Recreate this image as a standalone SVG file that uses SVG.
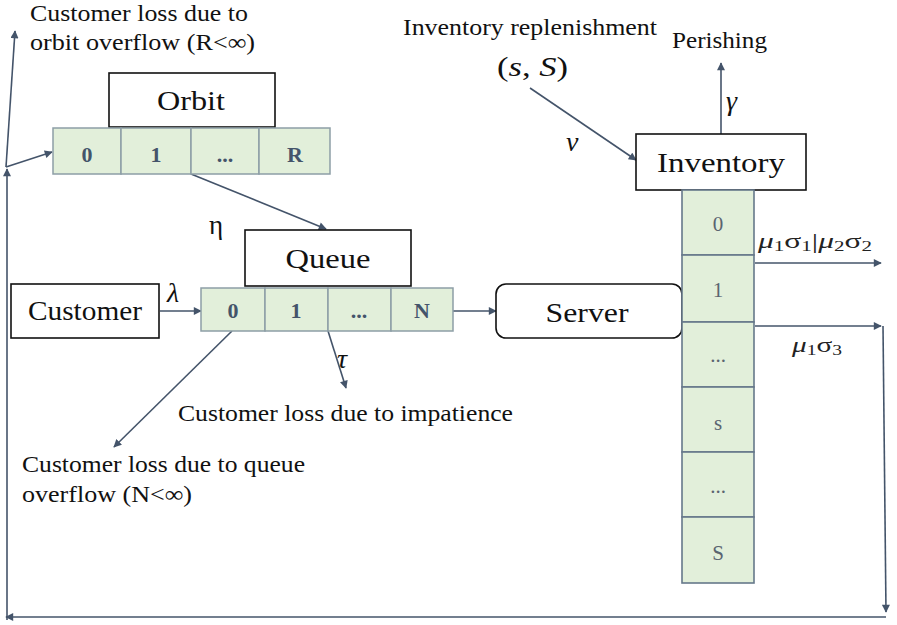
<svg xmlns="http://www.w3.org/2000/svg" width="897" height="625" viewBox="0 0 897 625">
<style>
text{font-family:"Liberation Serif","Times New Roman",serif;fill:#111}
.lbl{font-size:23px}
.box{fill:#fff;stroke:#111;stroke-width:1.6}
.cell{fill:#e2efda;stroke:#8d9ea6;stroke-width:1.5}
.inv{fill:#e2efda;stroke:#66788a;stroke-width:1.6}
.cl{font-size:22px;font-weight:bold;fill:#44546a;text-anchor:middle}
.il{font-size:21px;fill:#5a6470;text-anchor:middle}
.big{font-size:27px;text-anchor:middle}
.m{font-size:28px;font-style:italic}
.mu{font-size:21px;fill:#222}
.con{stroke:#44546a;stroke-width:1.6;fill:none;marker-end:url(#ah)}
</style>
<defs>
<marker id="ah" viewBox="0 0 10 10" refX="9" refY="5" markerWidth="9" markerHeight="8" markerUnits="userSpaceOnUse" orient="auto">
<path d="M0,0 L10,5 L0,10 z" fill="#44546a"/>
</marker>
</defs>

<g id="connectors">
<line class="con" x1="883" y1="326" x2="886" y2="612"/>
<line class="con" x1="886" y1="617" x2="6" y2="617"/>
<line class="con" x1="7" y1="620" x2="7" y2="169"/>
<line class="con" x1="6" y1="167" x2="15" y2="31"/>
<line class="con" x1="6" y1="167" x2="52" y2="152"/>
<line class="con" x1="191" y1="174" x2="326" y2="229"/>
<line class="con" x1="160" y1="311" x2="201" y2="311"/>
<line class="con" x1="453" y1="311" x2="496" y2="311"/>
<line class="con" x1="328" y1="331" x2="346" y2="388"/>
<line class="con" x1="232" y1="331" x2="114" y2="447"/>
<line class="con" x1="530" y1="88" x2="636" y2="160"/>
<line class="con" x1="721" y1="134" x2="721" y2="63"/>
<line class="con" x1="755" y1="263" x2="881" y2="263"/>
<line class="con" x1="755" y1="326" x2="881" y2="326"/>
</g>

<g id="orbit">
<rect class="box" x="109" y="73" width="166" height="54"/>
<text class="big" x="191" y="110" textLength="68" lengthAdjust="spacingAndGlyphs">Orbit</text>
<rect class="cell" x="53" y="128" width="68" height="46"/>
<rect class="cell" x="121" y="128" width="70" height="46"/>
<rect class="cell" x="191" y="128" width="68" height="46"/>
<rect class="cell" x="259" y="128" width="71" height="46"/>
<text class="cl" x="87" y="162">0</text>
<text class="cl" x="156" y="162">1</text>
<text class="cl" x="225" y="162">...</text>
<text class="cl" x="295" y="162">R</text>
</g>

<g id="queue">
<rect class="box" x="245" y="230" width="166" height="56"/>
<text class="big" x="328" y="268" textLength="85" lengthAdjust="spacingAndGlyphs">Queue</text>
<rect class="cell" x="201" y="288" width="64" height="43"/>
<rect class="cell" x="265" y="288" width="63" height="43"/>
<rect class="cell" x="328" y="288" width="63" height="43"/>
<rect class="cell" x="391" y="288" width="62" height="43"/>
<text class="cl" x="233" y="318">0</text>
<text class="cl" x="296" y="318">1</text>
<text class="cl" x="359" y="318">...</text>
<text class="cl" x="422" y="318">N</text>
</g>

<g id="customer">
<rect class="box" x="11" y="284" width="148" height="54"/>
<text class="big" x="85" y="320" textLength="114" lengthAdjust="spacingAndGlyphs">Customer</text>
</g>

<g id="server">
<rect class="box" x="496" y="284" width="186" height="54" rx="10"/>
<text class="big" x="587" y="322" textLength="83" lengthAdjust="spacingAndGlyphs">Server</text>
</g>

<g id="inventory">
<rect class="box" x="636" y="134" width="170" height="56"/>
<text class="big" x="721" y="172" textLength="128" lengthAdjust="spacingAndGlyphs">Inventory</text>
<rect class="inv" x="682" y="190" width="72" height="65"/>
<rect class="inv" x="682" y="255" width="72" height="67"/>
<rect class="inv" x="682" y="322" width="72" height="65"/>
<rect class="inv" x="682" y="387" width="72" height="65"/>
<rect class="inv" x="682" y="452" width="72" height="65"/>
<rect class="inv" x="682" y="517" width="72" height="66"/>
<text class="il" x="718" y="231">0</text>
<text class="il" x="718" y="297">1</text>
<text class="il" x="718" y="362">...</text>
<text class="il" x="718" y="430">s</text>
<text class="il" x="718" y="493">...</text>
<text class="il" x="718" y="560">S</text>
</g>

<g id="labels">
<text class="lbl" x="30" y="21" textLength="218" lengthAdjust="spacingAndGlyphs">Customer loss due to</text>
<text class="lbl" x="30" y="50" textLength="225" lengthAdjust="spacingAndGlyphs">orbit overflow (R&lt;∞)</text>
<text class="lbl" x="178" y="421" textLength="335" lengthAdjust="spacingAndGlyphs">Customer loss due to impatience</text>
<text class="lbl" x="22" y="472" textLength="283" lengthAdjust="spacingAndGlyphs">Customer loss due to queue</text>
<text class="lbl" x="22" y="502" textLength="170" lengthAdjust="spacingAndGlyphs">overflow (N&lt;∞)</text>
<text class="lbl" x="403" y="35" textLength="254" lengthAdjust="spacingAndGlyphs">Inventory replenishment</text>
<text class="lbl" x="672" y="48" textLength="95" lengthAdjust="spacingAndGlyphs">Perishing</text>
<text x="497" y="76" font-size="28" textLength="71" lengthAdjust="spacingAndGlyphs">(<tspan font-style="italic">s</tspan>, <tspan font-style="italic">S</tspan>)</text>
<text class="m" x="167" y="302">λ</text>
<text x="209" y="234" font-size="27">η</text>
<text class="m" x="337" y="368">τ</text>
<text class="m" x="566" y="151">ν</text>
<text class="m" x="726" y="110">γ</text>
<text class="mu" x="758" y="248" textLength="114" lengthAdjust="spacingAndGlyphs"><tspan font-style="italic">μ</tspan><tspan font-size="14" dy="3">1</tspan><tspan dy="-3">σ</tspan><tspan font-size="14" dy="3">1</tspan><tspan dy="-3">|</tspan><tspan font-style="italic">μ</tspan><tspan font-size="14" dy="3">2</tspan><tspan dy="-3">σ</tspan><tspan font-size="14" dy="3">2</tspan></text>
<text class="mu" x="792" y="352" textLength="50" lengthAdjust="spacingAndGlyphs"><tspan font-style="italic">μ</tspan><tspan font-size="14" dy="3">1</tspan><tspan dy="-3">σ</tspan><tspan font-size="14" dy="3">3</tspan></text>
</g>
</svg>
